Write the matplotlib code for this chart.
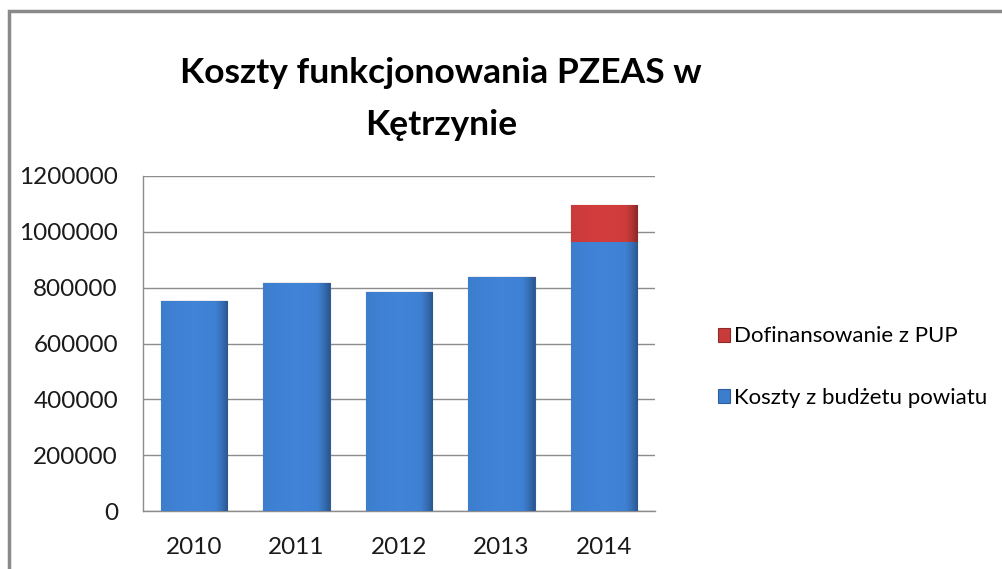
import numpy as np
import matplotlib
matplotlib.use("Agg")
import matplotlib.pyplot as plt
from matplotlib.patches import Rectangle

# data
years = ["2010", "2011", "2012", "2013", "2014"]
budzet_powiatu = [754000, 815000, 783000, 839000, 962000]
dofinansowanie_pup = [0, 0, 0, 0, 134000]
y_ticks = [0, 200000, 400000, 600000, 800000, 1000000, 1200000]

blue = "#3d7dcd"
red = "#c93a3a"
grid_col = "#8c8c8c"

plt.rcParams['font.family'] = ['Lato', 'DejaVu Sans']

fig = plt.figure(figsize=(10.02, 5.69), dpi=100)
ax = fig.add_axes([0.1427, 0.1019, 0.511, 0.5888])

x = np.arange(len(years))
b1 = ax.bar(x, budzet_powiatu, width=0.65, color=blue, edgecolor="#2d5f9e",
            linewidth=0.8, label="Koszty z budżetu powiatu", zorder=3)
b2 = ax.bar(x, dofinansowanie_pup, width=0.65, bottom=budzet_powiatu, color=red,
            edgecolor="#8e2a2a", linewidth=0.8, label="Dofinansowanie z PUP", zorder=3)

# soft horizontal shading on every bar, clipped to the bar shape
shade = np.linspace(0, 1, 64)
shade = 1 - 0.3 * np.clip((shade - 0.8) / 0.2, 0, 1) ** 1.5 + 0.05 * np.sin(shade * np.pi)
for bars, col in ((b1, blue), (b2, red)):
    rgb = np.array(matplotlib.colors.to_rgb(col))
    img = np.clip(shade[None, :, None] * rgb[None, None, :], 0, 1)
    for p in bars:
        if p.get_height() <= 0:
            continue
        x0, y0 = p.get_x(), p.get_y()
        im = ax.imshow(img, extent=[x0, x0 + p.get_width(), y0, y0 + p.get_height()],
                       aspect="auto", zorder=3.5, interpolation="bicubic")
        im.set_clip_path(p)

ax.set_xlim(-0.5, len(years) - 0.5)
ax.set_ylim(0, 1200000)
ax.set_yticks(y_ticks)
ax.set_yticklabels([str(v) for v in y_ticks])
ax.set_xticks(x)
ax.set_xticklabels(years)
ax.yaxis.grid(True, color=grid_col, linewidth=1, zorder=0)
ax.set_axisbelow(True)

for s in ("top", "right"):
    ax.spines[s].set_visible(False)
for s in ("left", "bottom"):
    ax.spines[s].set_color(grid_col)
    ax.spines[s].set_linewidth(1)
ax.tick_params(axis="y", length=0, pad=18, labelsize=17.5, colors="#1a1a1a")
ax.tick_params(axis="x", length=0, pad=19, labelsize=17.5, colors="#1a1a1a")

fig.text(0.44, 0.826, "Koszty funkcjonowania PZEAS w\nKętrzynie", ha="center",
         va="center", fontsize=25.5, fontweight="bold", linespacing=1.8)

handles = [b2, b1]
leg = fig.legend(handles, [h.get_label() for h in handles], loc="center left",
                 bbox_to_anchor=(0.7166, 0.355), frameon=False, fontsize=16,
                 handlelength=0.55, handleheight=0.6, handletextpad=0.15,
                 labelspacing=1.85, borderaxespad=0, borderpad=0)

# outer chart frame
fig.patches.append(Rectangle((9 / 1002, -0.1), 1.2, 1 - 11 / 569 + 0.1,
                             transform=fig.transFigure, fill=False,
                             edgecolor="#8a8a8a", linewidth=2.5))

fig.savefig("out.png", dpi=100)
